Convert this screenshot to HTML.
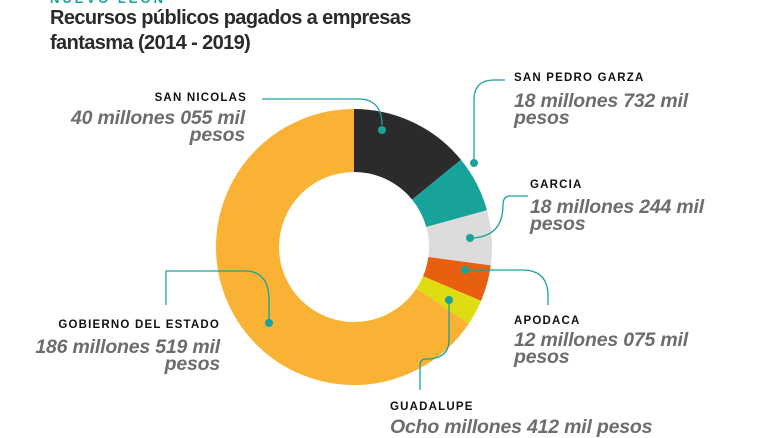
<!DOCTYPE html>
<html><head><meta charset="utf-8"><style>
html,body{margin:0;padding:0;background:#fff;}
body{width:768px;height:432px;overflow:hidden;position:relative;font-family:"Liberation Sans",sans-serif;}
.t{position:absolute;white-space:nowrap;}
.lab{font-weight:bold;font-size:11.5px;letter-spacing:1.2px;color:#111;}
.val{font-weight:bold;font-style:italic;font-size:19.5px;line-height:17px;color:#6d6d6f;letter-spacing:-0.2px;}
.r{text-align:right;}
</style></head><body>
<div class="t" style="left:50px;top:-9px;font-size:13px;font-weight:bold;letter-spacing:3px;color:#1aa39a;">NUEVO LEON</div>
<div class="t" style="left:50px;top:6px;font-size:20px;font-weight:bold;line-height:25px;color:#2b2b2b;letter-spacing:-0.6px;">Recursos públicos pagados a empresas<br>fantasma (2014 - 2019)</div>
<svg width="768" height="432" style="position:absolute;left:0;top:0">
<g transform="rotate(-90 354 247)" fill="none" stroke-width="63">
<circle cx="354" cy="247" r="106.5" stroke="#f9b233" stroke-dasharray="439.41 669.16" stroke-dashoffset="-229.75"/>
<circle cx="354" cy="247" r="106.5" stroke="#2b2b2b" stroke-dasharray="94.37 669.16" stroke-dashoffset="0"/>
<circle cx="354" cy="247" r="106.5" stroke="#17a39a" stroke-dasharray="44.13 669.16" stroke-dashoffset="-94.37"/>
<circle cx="354" cy="247" r="106.5" stroke="#dcdcdc" stroke-dasharray="42.98 669.16" stroke-dashoffset="-138.5"/>
<circle cx="354" cy="247" r="106.5" stroke="#e8600f" stroke-dasharray="28.45 669.16" stroke-dashoffset="-181.48"/>
<circle cx="354" cy="247" r="106.5" stroke="#dfdd12" stroke-dasharray="19.82 669.16" stroke-dashoffset="-209.93"/>
</g>
<g fill="none" stroke="#1aa39a" stroke-width="1.3">
<path d="M262 99 H358 Q382 99 382 125"/>
<path d="M505 80 H494 Q474 80 474 100 V160"/>
<path d="M528 196 H510 Q503 196 503 205 Q503 236 473 238"/>
<path d="M465 270 H522 Q548 270 548 296 V305"/>
<path d="M449 300 V340 Q449 359 426 359 Q420 359 420 366 V390"/>
<path d="M166 305 V271 H245 Q269 271 269 300 V322"/>
</g>
<g fill="#1aa39a">
<circle cx="382" cy="130" r="4"/><circle cx="474" cy="163" r="4"/><circle cx="470" cy="238" r="4"/>
<circle cx="465" cy="270" r="4"/><circle cx="449" cy="300" r="4"/><circle cx="269" cy="323" r="4"/>
</g>
</svg>
<div class="t lab r" style="right:521px;top:92px;">SAN NICOLAS</div>
<div class="t val r" style="right:523px;top:110px;">40 millones 055 mil<br>pesos</div>
<div class="t lab" style="left:514px;top:72px;">SAN PEDRO GARZA</div>
<div class="t val" style="left:514px;top:93px;">18 millones 732 mil<br>pesos</div>
<div class="t lab" style="left:530px;top:179px;">GARCIA</div>
<div class="t val" style="left:530px;top:199px;">18 millones 244 mil<br>pesos</div>
<div class="t lab" style="left:514px;top:315px;">APODACA</div>
<div class="t val" style="left:514px;top:332px;">12 millones 075 mil<br>pesos</div>
<div class="t lab" style="left:390px;top:401px;">GUADALUPE</div>
<div class="t val" style="left:390px;top:419px;">Ocho millones 412 mil pesos</div>
<div class="t lab r" style="right:548px;top:319px;">GOBIERNO DEL ESTADO</div>
<div class="t val r" style="right:548px;top:339px;">186 millones 519 mil<br>pesos</div>
</body></html>
